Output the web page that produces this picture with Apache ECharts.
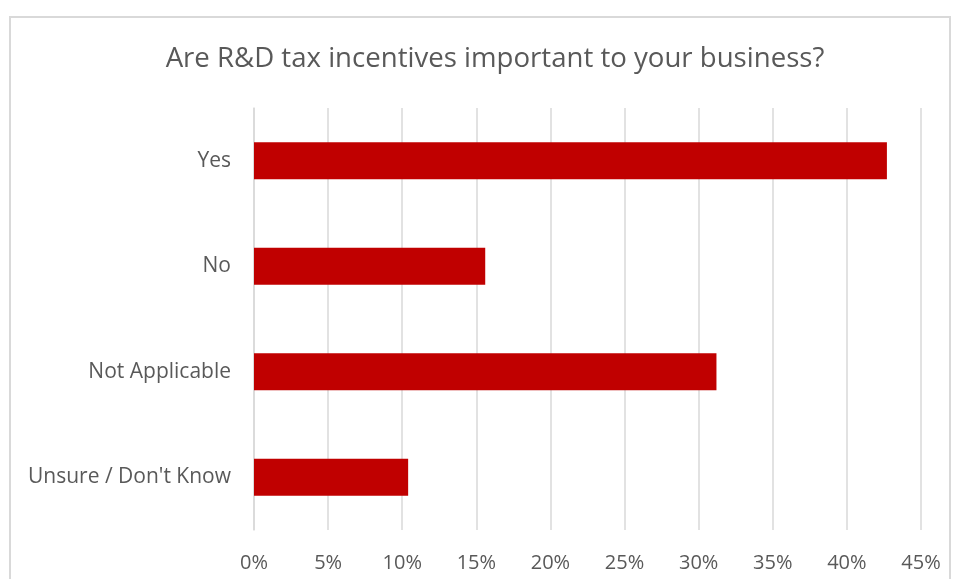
<!DOCTYPE html>
<html><head><meta charset="utf-8">
<script src="https://cdn.jsdelivr.net/npm/echarts@6/dist/echarts.min.js"></script>
<style>html,body{margin:0;padding:0;background:#fff}#c{width:957px;height:579px}</style>
</head><body><div id="c"></div>
<script>
const categories = ["Yes", "No", "Not Applicable", "Unsure / Don't Know"];
const values = [42.7, 15.6, 31.2, 10.4];
const titleText = "Are R&D tax incentives important to your business?";
const FONT = "'Open Sans', sans-serif";
const chart = echarts.init(document.getElementById('c'));
chart.setOption({
  animation: false,
  graphic: [{type:'rect', shape:{x:10,y:17,width:940,height:620}, style:{fill:'none', stroke:'#d9d9d9', lineWidth:2}, z:-1}],
  title: {text: titleText, left: 490, top: 40, textAlign:'center',
    textStyle:{fontFamily: FONT, fontSize: 27.6, fontWeight:'normal', color:'#595959'}},
  grid: {left: 254, right: 36, top: 108, bottom: 49},
  xAxis: {type:'value', min:0, max:45, interval:5,
    axisLabel:{formatter:'{value}%', fontFamily:FONT, fontSize:20, color:'#595959', margin:23},
    axisLine:{show:false}, axisTick:{show:false},
    splitLine:{lineStyle:{color:'#d9d9d9', width:1.5}}},
  yAxis: {type:'category', data: categories, inverse:true,
    axisLabel:{fontFamily:FONT, fontSize:21, color:'#595959', margin:23},
    axisLine:{show:true, lineStyle:{color:'#d9d9d9', width:1.5}}, axisTick:{show:false}},
  series: [{type:'bar', data: values, barWidth: 37, itemStyle:{color:'#c00000'}}]
});
</script></body></html>
